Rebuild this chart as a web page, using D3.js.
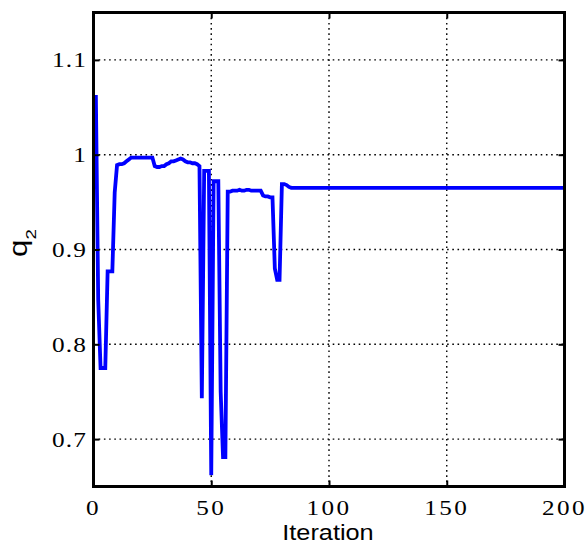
<!DOCTYPE html>
<html>
<head>
<meta charset="utf-8">
<script src="https://cdn.jsdelivr.net/npm/d3@7"></script>
<style>
  html, body { margin: 0; padding: 0; background: #ffffff; }
</style>
</head>
<body>
<svg id="svgBox" width="587" height="544"></svg>
<script>
// iteration numbers and q2 values
const iterations = [
  1, 2, 3, 4, 5, 6, 7, 8, 9, 10,
  11, 12, 13, 14, 15, 16, 17, 18, 19, 20,
  21, 22, 23, 24, 25, 26, 27, 28, 29, 30,
  31, 32, 33, 34, 35, 36, 37, 38, 39, 40,
  41, 42, 43, 44, 45, 46, 47, 48, 49, 50,
  51, 52, 53, 54, 55, 56, 57, 58, 59, 60,
  61, 62, 63, 64, 65, 66, 67, 68, 69, 70,
  71, 72, 73, 74, 75, 76, 77, 78, 79, 80,
  81, 82, 83, 84, 200,
]
const q2 = [
  1.063, 0.847, 0.775, 0.775, 0.775, 0.877, 0.877, 0.877, 0.96, 0.989,
  0.99, 0.99, 0.991, 0.993, 0.995, 0.997, 0.997, 0.997, 0.997, 0.997,
  0.997, 0.997, 0.997, 0.997, 0.997, 0.988, 0.987, 0.987, 0.988, 0.988,
  0.99, 0.991, 0.993, 0.993, 0.994, 0.995, 0.996, 0.995, 0.993, 0.992,
  0.992, 0.991, 0.991, 0.99, 0.988, 0.743, 0.983, 0.983, 0.983, 0.662,
  0.972, 0.972, 0.972, 0.75, 0.681, 0.681, 0.961, 0.961, 0.962, 0.962,
  0.962, 0.963, 0.962, 0.962, 0.963, 0.963, 0.962, 0.962, 0.962, 0.962,
  0.962, 0.957, 0.956, 0.956, 0.955, 0.955, 0.88, 0.868, 0.868, 0.969,
  0.969, 0.968, 0.966, 0.965, 0.965,
]

const xTicks = [0, 50, 100, 150, 200]
const yTicks = [0.7, 0.8, 0.9, 1, 1.1]
const xDomain = [0, 200]
const yDomain = [0.65, 1.15]

const svg = d3.select("#svgBox")

const plotLeft = 93.5
const plotRight = 564.5
const plotTop = 12.5
const plotBottom = 486.5

const x = d3.scaleLinear().domain(xDomain).range([plotLeft, plotRight])
const y = d3.scaleLinear().domain(yDomain).range([plotBottom, plotTop])

// dotted grid
svg.append("g")
  .selectAll("line")
  .data(xTicks.slice(1, -1))
  .join("line")
  .attr("x1", (d) => x(d))
  .attr("x2", (d) => x(d))
  .attr("y1", plotTop)
  .attr("y2", plotBottom)
  .attr("stroke", "#000")
  .attr("stroke-width", 1.4)
  .attr("stroke-dasharray", "1.6 3.6")

svg.append("g")
  .selectAll("line")
  .data(yTicks)
  .join("line")
  .attr("x1", plotLeft)
  .attr("x2", plotRight)
  .attr("y1", (d) => y(d))
  .attr("y2", (d) => y(d))
  .attr("stroke", "#000")
  .attr("stroke-width", 1.4)
  .attr("stroke-dasharray", "1.6 3.6")

// the q2 trace
svg.append("clipPath")
  .attr("id", "plotClip")
  .append("rect")
  .attr("x", plotLeft)
  .attr("y", plotTop)
  .attr("width", plotRight - plotLeft)
  .attr("height", plotBottom - plotTop)

const line = d3.line()
  .x((d, i) => x(iterations[i]))
  .y((d) => y(d))

svg.append("path")
  .datum(q2)
  .attr("clip-path", "url(#plotClip)")
  .attr("fill", "none")
  .attr("stroke", "#0000ff")
  .attr("stroke-width", 3.8)
  .attr("stroke-linejoin", "miter")
  .attr("d", line)

// axes: inward ticks on all four sides, labels bottom and left
const tickLen = 6
const xAxisBottom = d3.axisBottom(x).tickValues(xTicks).tickSize(-tickLen).tickFormat("")
const xAxisTop = d3.axisTop(x).tickValues(xTicks).tickSize(-tickLen).tickFormat("")
const yAxisLeft = d3.axisLeft(y).tickValues(yTicks).tickSize(-tickLen).tickFormat("")
const yAxisRight = d3.axisRight(y).tickValues(yTicks).tickSize(-tickLen).tickFormat("")

const styleAxis = (g) => {
  g.select(".domain").remove()
  g.selectAll(".tick line").attr("stroke", "#000").attr("stroke-width", 2)
}

svg.append("g").attr("transform", `translate(0,${plotBottom})`).call(xAxisBottom).call(styleAxis)
svg.append("g").attr("transform", `translate(0,${plotTop})`).call(xAxisTop).call(styleAxis)
svg.append("g").attr("transform", `translate(${plotLeft},0)`).call(yAxisLeft).call(styleAxis)
svg.append("g").attr("transform", `translate(${plotRight},0)`).call(yAxisRight).call(styleAxis)

// frame
svg.append("rect")
  .attr("x", plotLeft)
  .attr("y", plotTop)
  .attr("width", plotRight - plotLeft)
  .attr("height", plotBottom - plotTop)
  .attr("fill", "none")
  .attr("stroke", "#000")
  .attr("stroke-width", 3)

// tick labels (MATLAB draws them wide, so stretch a little)
const tickFont = "'Liberation Serif', 'DejaVu Serif', serif"

svg.append("g")
  .selectAll("text")
  .data(xTicks)
  .join("text")
  .attr("transform", (d) => `translate(${x(d)},515) scale(1.2,1)`)
  .attr("text-anchor", "middle")
  .attr("font-family", tickFont)
  .attr("font-size", "21px")
  .attr("letter-spacing", "2px")
  .attr("fill", "#000")
  .text((d) => d)

svg.append("g")
  .selectAll("text")
  .data(yTicks)
  .join("text")
  .attr("transform", (d) => `translate(87,${y(d) + 7.5}) scale(1.15,1)`)
  .attr("text-anchor", "end")
  .attr("font-family", tickFont)
  .attr("font-size", "22px")
  .attr("letter-spacing", "1px")
  .attr("fill", "#000")
  .text((d) => d)

// axis titles
const labelFont = "'Liberation Sans', Arial, sans-serif"

svg.append("text")
  .attr("transform", "translate(328,540) scale(1.15,1)")
  .attr("text-anchor", "middle")
  .attr("font-family", labelFont)
  .attr("font-size", "22px")
  .attr("fill", "#000")
  .text("Iteration")

const yLabel = svg.append("text")
  .attr("transform", "translate(27,243) rotate(-90) scale(1.25,1)")
  .attr("text-anchor", "middle")
  .attr("font-family", labelFont)
  .attr("font-size", "25px")
  .attr("fill", "#000")
yLabel.append("tspan").text("q")
yLabel.append("tspan")
  .attr("font-size", "15px")
  .attr("dy", "9")
  .text("2")
</script>
</body>
</html>
